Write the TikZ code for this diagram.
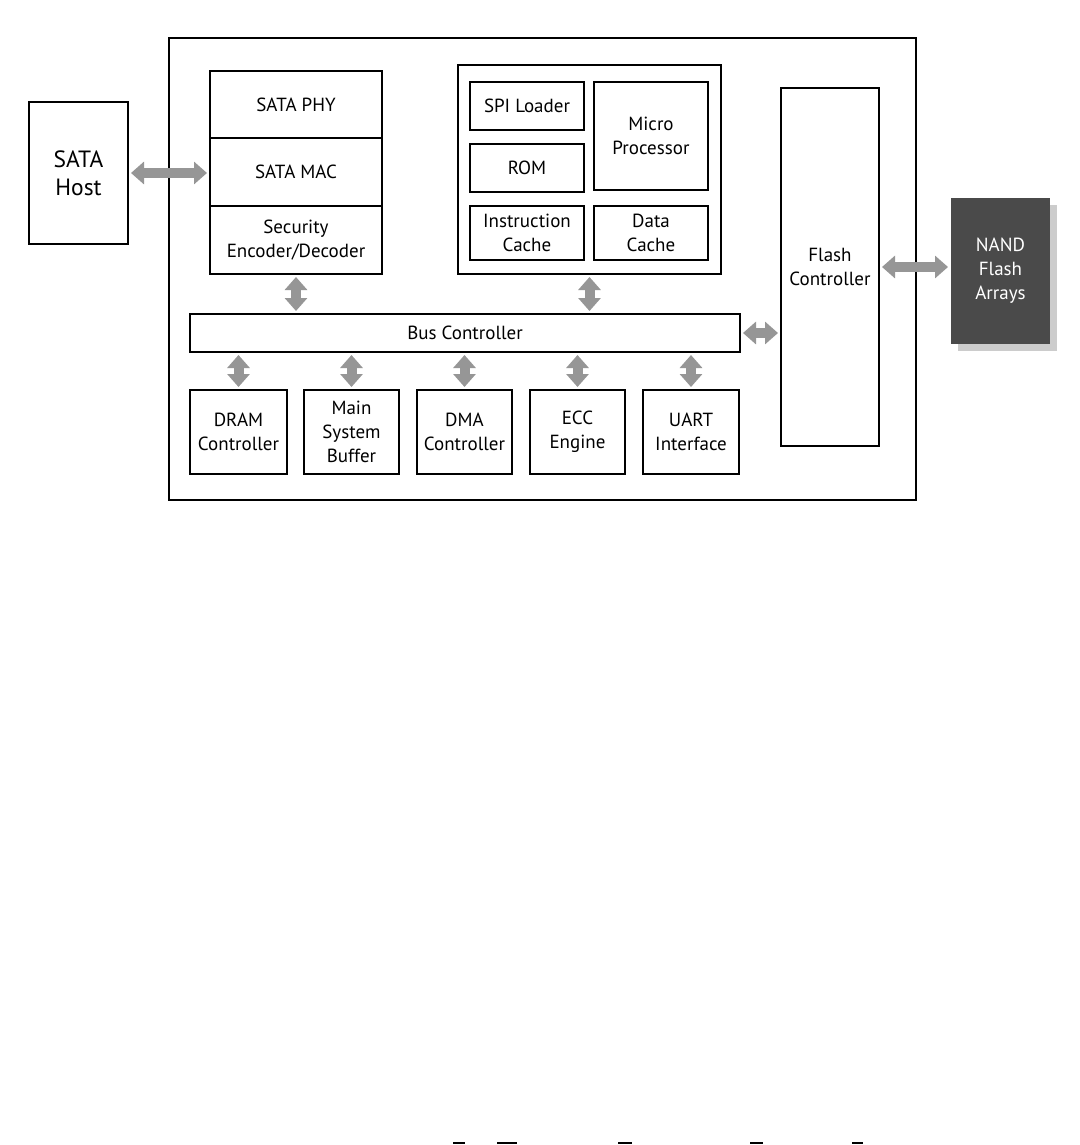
\documentclass[tikz,border=0pt]{standalone}
\usepackage{fontspec}
\setmainfont{PT Sans}
\usetikzlibrary{arrows.meta}
\definecolor{arrowgray}{RGB}{150,150,150}
\definecolor{nandfill}{RGB}{74,74,74}
\definecolor{shadowgray}{RGB}{204,204,204}
\tikzset{
  blk/.style={draw=black, line width=2pt, fill=white, inner sep=0pt, align=center,
    font=\fontsize{19}{24}\selectfont},
  fatarrow/.style={draw=arrowgray, line width=10pt,
    {Triangle[width=22pt,length=13pt]}-{Triangle[width=22pt,length=13pt]},
    shorten <=2pt, shorten >=2pt}
}
\begin{document}
\begin{tikzpicture}[x=1pt,y=-1pt]
\useasboundingbox (0,0) rectangle (1079,1145);
\fill[white] (0,0) rectangle (1079,1145);
% outer container
\node[blk, minimum width=747pt, minimum height=462pt] (outer) at (542.5,269) {};
% host
\node[blk, minimum width=99pt, minimum height=142pt, font=\fontsize{23.5}{28}\selectfont] (host) at (78.5,173) {SATA\\Host};
% SATA stack
\node[blk, minimum width=172pt, minimum height=67pt] (phy) at (296,104.5) {SATA PHY};
\node[blk, minimum width=172pt, minimum height=68pt] (mac) at (296,172) {SATA MAC};
\node[blk, minimum width=172pt, minimum height=68pt] (sec) at (296,240) {Security\\Encoder/Decoder};
% processor group
\node[blk, minimum width=263pt, minimum height=209pt] (proc) at (589.5,169.5) {};
\node[blk, minimum width=114pt, minimum height=48pt] (spi) at (527,106) {SPI Loader};
\node[blk, minimum width=114pt, minimum height=48pt] (rom) at (527,168) {ROM};
\node[blk, minimum width=114pt, minimum height=108pt] (micro) at (651,136) {Micro\\Processor};
\node[blk, minimum width=114pt, minimum height=54pt] (icache) at (527,233) {Instruction\\Cache};
\node[blk, minimum width=114pt, minimum height=54pt] (dcache) at (651,233) {Data\\Cache};
% bus
\node[blk, minimum width=550pt, minimum height=38pt] (bus) at (465,333) {Bus Controller};
% bottom row
\node[blk, minimum width=97pt, minimum height=84pt] (dram) at (238.5,432) {DRAM\\Controller};
\node[blk, minimum width=95pt, minimum height=84pt] (msb) at (351.5,432) {Main\\System\\Buffer};
\node[blk, minimum width=95pt, minimum height=84pt] (dma) at (464.5,432) {DMA\\Controller};
\node[blk, minimum width=95pt, minimum height=84pt] (ecc) at (577.5,432) {ECC\\Engine};
\node[blk, minimum width=96pt, minimum height=84pt] (uart) at (691,432) {UART\\Interface};
% flash controller
\node[blk, minimum width=98pt, minimum height=358pt] (flash) at (830,267) {Flash\\Controller};
% NAND with shadow
\fill[shadowgray] (958,205) rectangle (1057,351);
\node[blk, draw=none, fill=nandfill, text=white, minimum width=99pt, minimum height=146pt] (nand) at (1000.5,271) {NAND\\Flash\\Arrays};
% connectors
\draw[fatarrow] (host.east) -- (host.east -| mac.west);
\draw[fatarrow] (sec.south) -- (sec.south |- bus.north);
\draw[fatarrow] (proc.south) -- (proc.south |- bus.north);
\foreach \b in {dram,msb,dma,ecc,uart}
  \draw[fatarrow] (\b.north |- bus.south) -- (\b.north);
\draw[fatarrow] (bus.east) -- (bus.east -| flash.west);
\draw[fatarrow] (flash.east |- nand.west) ++(0,-4) coordinate (fe) -- (fe -| nand.west);
% small marks at the bottom
\foreach \a/\b in {453/465,497/517,618/632,750/763,852/863}
  \draw[line width=1.6pt] (\a,1143) -- (\b,1143);
\end{tikzpicture}
\end{document}
